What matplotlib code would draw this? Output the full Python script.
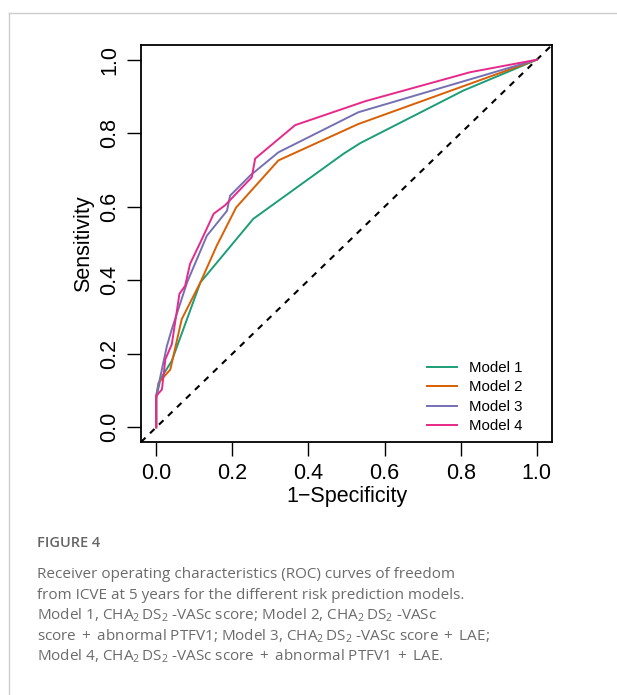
import numpy as np
import matplotlib.pyplot as plt

# ROC points (1-specificity, sensitivity)
m1_fpr = [0, 0, 0.011, 0.041, 0.116, 0.255, 0.492, 0.536, 0.807, 1]
m1_tpr = [0, 0.08, 0.131, 0.181, 0.394, 0.567, 0.744, 0.773, 0.916, 1]

m2_fpr = [0, 0, 0.006, 0.037, 0.067, 0.116, 0.159, 0.210, 0.321, 0.531, 1]
m2_tpr = [0, 0.085, 0.121, 0.157, 0.294, 0.394, 0.494, 0.598, 0.726, 0.825, 1]

m3_fpr = [0, 0, 0.028, 0.041, 0.081, 0.133, 0.186, 0.194, 0.247, 0.321, 0.531, 1]
m3_tpr = [0, 0.085, 0.221, 0.267, 0.394, 0.521, 0.589, 0.630, 0.685, 0.748, 0.857, 1]

m4_fpr = [0, 0, 0.015, 0.024, 0.041, 0.061, 0.076, 0.089, 0.116, 0.151, 0.181,
          0.251, 0.260, 0.365, 0.549, 0.825, 1]
m4_tpr = [0, 0.085, 0.103, 0.185, 0.226, 0.363, 0.385, 0.445, 0.503, 0.581, 0.604,
          0.680, 0.731, 0.822, 0.887, 0.966, 1]

labels = ['Model 1', 'Model 2', 'Model 3', 'Model 4']
colors = ['#1B9E77', '#D95F02', '#7570B3', '#E7298A']
ticks = [0.0, 0.2, 0.4, 0.6, 0.8, 1.0]

cha = r'CHA$_2\,$DS$_2\;$-VASc'
plus = r'$\,$+$\,$'
caption_title = 'FIGURE 4'
caption_lines = [
    'Receiver operating characteristics (ROC) curves of freedom',
    'from ICVE at 5 years for the different risk prediction models.',
    'Model 1, ' + cha + ' score; Model 2, ' + cha,
    'score ' + plus + ' abnormal PTFV1; Model 3, ' + cha + ' score ' + plus + ' LAE;',
    'Model 4, ' + cha + ' score ' + plus + ' abnormal PTFV1 ' + plus + ' LAE.',
]

plt.rcParams['font.family'] = 'Liberation Sans'
plt.rcParams['mathtext.fontset'] = 'custom'
plt.rcParams['mathtext.rm'] = 'Open Sans'
plt.rcParams['mathtext.it'] = 'Open Sans'
plt.rcParams['mathtext.bf'] = 'Open Sans'

W, H = 617, 695
fig = plt.figure(figsize=(W / 100, H / 100), dpi=100)

# light grey panel frame (left and top edges)
fig.add_artist(plt.Line2D([8.5 / W, 8.5 / W], [0, 1 - 13 / H], color='#cccccc', lw=1))
fig.add_artist(plt.Line2D([8.5 / W, 1], [1 - 13 / H, 1 - 13 / H], color='#cccccc', lw=1))

ax = fig.add_axes([141 / W, 1 - 442 / H, 411 / W, 397 / H])

ax.plot([-0.04, 1.04], [-0.04, 1.04], color='black', lw=1.5, ls=(0, (3, 3)))
for fpr, tpr, c, lab in zip([m1_fpr, m2_fpr, m3_fpr, m4_fpr],
                            [m1_tpr, m2_tpr, m3_tpr, m4_tpr], colors, labels):
    ax.plot(fpr, tpr, color=c, lw=1.4, label=lab)

ax.set_xlim(-0.04, 1.04)
ax.set_ylim(-0.04, 1.04)
ax.set_xticks(ticks)
ax.set_yticks(ticks)
ax.set_xticklabels(['%.1f' % t for t in ticks])
ax.set_yticklabels(['%.1f' % t for t in ticks], rotation=90, va='center')
ax.tick_params(length=10, width=1, labelsize=15.5, pad=5)
for s in ax.spines.values():
    s.set_linewidth(1.3)

ax.set_xlabel('1\u2212Specificity', fontsize=15.5)
ax.set_ylabel('Sensitivity', fontsize=15.5)
ax.xaxis.set_label_coords(0.5, -0.112)
ax.yaxis.set_label_coords(-0.115, 0.5)

ax.legend(loc='lower right', bbox_to_anchor=(0.96, -0.012), frameon=False,
          fontsize=10.8, handlelength=2.0, labelspacing=0.36, handletextpad=0.75)

fig.text(37 / W, 1 - 543 / H, caption_title, fontsize=10.5, color='#666666',
         family='Open Sans', weight='semibold', va='center')
for i, line in enumerate(caption_lines):
    fig.text(37 / W, 1 - (575 + 20.3 * i) / H, line, fontsize=11, color='#6b6b6b',
             family='Open Sans', va='center')

fig.savefig('out.png', dpi=100)
